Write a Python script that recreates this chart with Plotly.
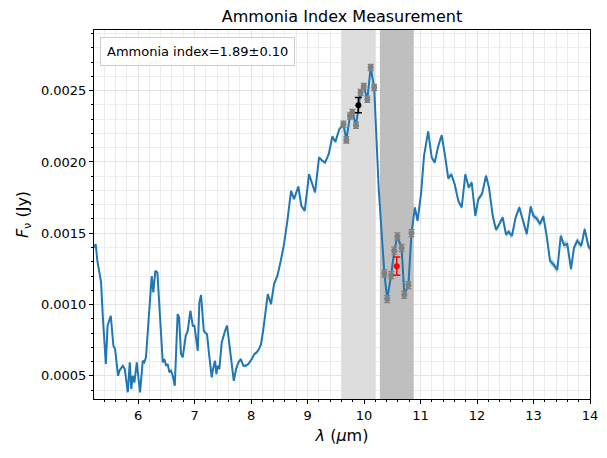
import plotly.graph_objects as go

# ---------------- data ----------------
wavelength = [
    5.22, 5.25, 5.28, 5.345, 5.375, 5.43, 5.46, 5.517,
    5.563, 5.593, 5.646, 5.67, 5.73, 5.765, 5.818, 5.853,
    5.88, 5.906, 5.935, 5.977, 6.035, 6.083, 6.11, 6.14,
    6.183, 6.242, 6.27, 6.306, 6.342, 6.39, 6.437, 6.466,
    6.496, 6.525, 6.554, 6.584, 6.614, 6.65, 6.70, 6.726,
    6.76, 6.79, 6.844, 6.88, 6.926, 6.968, 6.997, 7.057,
    7.085, 7.115, 7.163, 7.186, 7.221, 7.257, 7.304, 7.327,
    7.363, 7.386, 7.41, 7.439, 7.481, 7.54, 7.575, 7.616,
    7.658, 7.694, 7.735, 7.775, 7.818, 7.864, 7.906, 7.952,
    8.012, 8.058, 8.10, 8.14, 8.177, 8.218, 8.296, 8.354,
    8.407, 8.466, 8.526, 8.584, 8.643, 8.708, 8.761, 8.837,
    8.89, 8.95, 9.027, 9.092, 9.133, 9.204, 9.262, 9.31,
    9.375, 9.439, 9.492, 9.563, 9.635, 9.687, 9.752, 9.793,
    9.858, 9.94, 9.995, 10.058, 10.118, 10.18, 10.26, 10.36,
    10.41, 10.48, 10.535, 10.59, 10.665, 10.713, 10.785, 10.84,
    10.90, 10.947, 11.01, 11.062, 11.135, 11.198, 11.251, 11.315,
    11.375, 11.434, 11.492, 11.545, 11.605, 11.669, 11.729, 11.793,
    11.853, 11.906, 11.97, 12.023, 12.088, 12.159, 12.212, 12.278,
    12.336, 12.395, 12.455, 12.513, 12.56, 12.619, 12.684, 12.749,
    12.809, 12.88, 12.95, 12.997, 13.057, 13.115, 13.174, 13.233,
    13.292, 13.35, 13.421, 13.482, 13.54, 13.598, 13.664, 13.717,
    13.775, 13.846, 13.906, 13.97, 14.0,
]

flux = [
    0.001400, 0.001424, 0.001306, 0.001155, 0.000921, 0.000582, 0.000851, 0.000921,
    0.000710, 0.000687, 0.000500, 0.000535, 0.000570, 0.000547, 0.000384, 0.000594,
    0.000407, 0.000500, 0.000453, 0.000594, 0.000384, 0.000605, 0.000594, 0.000629,
    0.000874, 0.001200, 0.001085, 0.001236, 0.001225, 0.000874, 0.000594, 0.000617,
    0.000570, 0.000582, 0.000524, 0.000535, 0.000500, 0.000430, 0.000933, 0.000910,
    0.000652, 0.000629, 0.000780, 0.000816, 0.000956, 0.000851, 0.000851, 0.000675,
    0.001015, 0.001066, 0.000816, 0.000804, 0.000792, 0.000652, 0.000489, 0.000547,
    0.000605, 0.000512, 0.000570, 0.000547, 0.000734, 0.000816, 0.000851, 0.000722,
    0.000594, 0.000465, 0.000547, 0.000594, 0.000617, 0.000570, 0.000570, 0.000582,
    0.000617, 0.000652, 0.000664, 0.000687, 0.000722, 0.000828, 0.001073, 0.001003,
    0.001143, 0.001201, 0.001306, 0.001424, 0.001587, 0.001797, 0.001739, 0.001828,
    0.001692, 0.001657, 0.001914, 0.001832, 0.001786, 0.002032, 0.002008, 0.001996,
    0.002055, 0.002179, 0.002141, 0.002230, 0.002265, 0.002155, 0.002323, 0.002347,
    0.002258, 0.002487, 0.002529, 0.002440, 0.002663, 0.002522, 0.001810, 0.001218,
    0.001038, 0.001206, 0.001377, 0.001478, 0.001396, 0.001068, 0.001136, 0.001501,
    0.001681, 0.001587, 0.001780, 0.002043, 0.002215, 0.002032, 0.001996, 0.002113,
    0.002188, 0.002043, 0.001884, 0.001914, 0.001844, 0.001727, 0.001681, 0.001914,
    0.001821, 0.001856, 0.001622, 0.001739, 0.001774, 0.001903, 0.001821, 0.001622,
    0.001524, 0.001564, 0.001611, 0.001490, 0.001510, 0.001482, 0.001611, 0.001681,
    0.001587, 0.001494, 0.001688, 0.001622, 0.001604, 0.001564, 0.001618, 0.001482,
    0.001306, 0.001283, 0.001243, 0.001482, 0.001417, 0.001424, 0.001248, 0.001400,
    0.001447, 0.001412, 0.001529, 0.001412, 0.001390,
]

flux_err = [
    0.8e-5, 0.8e-5, 0.8e-5, 0.8e-5, 0.8e-5, 0.8e-5, 0.8e-5, 0.8e-5,
    0.8e-5, 0.8e-5, 0.8e-5, 0.8e-5, 0.8e-5, 0.8e-5, 0.8e-5, 0.8e-5,
    0.8e-5, 0.8e-5, 0.8e-5, 0.8e-5, 0.8e-5, 0.8e-5, 0.8e-5, 0.8e-5,
    0.8e-5, 0.8e-5, 0.8e-5, 0.8e-5, 0.8e-5, 0.8e-5, 0.8e-5, 0.8e-5,
    0.8e-5, 0.8e-5, 0.8e-5, 0.8e-5, 0.8e-5, 0.8e-5, 0.8e-5, 0.8e-5,
    0.9e-5, 0.9e-5, 0.9e-5, 0.9e-5, 0.9e-5, 0.9e-5, 0.9e-5, 0.9e-5,
    0.9e-5, 0.9e-5, 0.9e-5, 0.9e-5, 0.9e-5, 0.9e-5, 0.9e-5, 0.9e-5,
    1.0e-5, 1.0e-5, 1.0e-5, 1.0e-5, 1.0e-5, 1.0e-5, 1.0e-5, 1.0e-5,
    1.0e-5, 1.0e-5, 1.0e-5, 1.0e-5, 1.0e-5, 1.0e-5, 1.0e-5, 1.0e-5,
    1.1e-5, 1.1e-5, 1.1e-5, 1.1e-5, 1.1e-5, 1.1e-5, 1.1e-5, 1.1e-5,
    1.1e-5, 1.1e-5, 1.1e-5, 1.1e-5, 1.1e-5, 1.1e-5, 1.1e-5, 1.1e-5,
    1.2e-5, 1.2e-5, 1.2e-5, 1.2e-5, 1.2e-5, 1.2e-5, 1.2e-5, 1.2e-5,
    1.2e-5, 1.2e-5, 1.2e-5, 1.2e-5, 1.2e-5, 1.2e-5, 1.2e-5, 1.2e-5,
    1.3e-5, 1.3e-5, 1.3e-5, 1.3e-5, 1.3e-5, 1.3e-5, 1.3e-5, 1.3e-5,
    1.4e-5, 1.4e-5, 1.4e-5, 1.4e-5, 1.4e-5, 1.4e-5, 1.4e-5, 1.4e-5,
    1.6e-5, 1.6e-5, 1.6e-5, 1.6e-5, 1.6e-5, 1.6e-5, 1.6e-5, 1.6e-5,
    1.7e-5, 1.7e-5, 1.7e-5, 1.7e-5, 1.7e-5, 1.7e-5, 1.7e-5, 1.7e-5,
    1.9e-5, 1.9e-5, 1.9e-5, 1.9e-5, 1.9e-5, 1.9e-5, 1.9e-5, 1.9e-5,
    2.0e-5, 2.0e-5, 2.0e-5, 2.0e-5, 2.0e-5, 2.0e-5, 2.0e-5, 2.0e-5,
    2.3e-5, 2.3e-5, 2.3e-5, 2.3e-5, 2.3e-5, 2.3e-5, 2.3e-5, 2.3e-5,
    2.5e-5, 2.5e-5, 2.5e-5, 2.5e-5, 2.5e-5, 2.5e-5, 2.5e-5, 2.5e-5,
    2.5e-5, 2.5e-5, 2.5e-5, 2.5e-5, 2.5e-5,
]

# index windows (micron)
continuum_window = [9.60, 10.20]
absorption_window = [10.28, 10.88]

# per-pixel error bars drawn on the points inside the windows
continuum_pt_err = [2.2e-5, 2.2e-5, 2.2e-5, 2.2e-5, 2.2e-5, 2.2e-5, 2.2e-5, 2.2e-5, 2.2e-5, 2.2e-5]
absorption_pt_err = [2.5e-5, 2.5e-5, 2.5e-5, 2.5e-5, 2.5e-5, 2.5e-5, 2.5e-5, 2.5e-5, 2.5e-5]

# window-averaged fluxes and their uncertainties
continuum_mean_err = 5.3e-5
absorption_mean_err = 6.4e-5

index_value = 1.89
index_err = 0.10

# axis limits
x_range = [5.22, 14.0]
y_range = [0.000337, 0.002926]

# ---------------- derived selections ----------------
cont_x = [w for w in wavelength if continuum_window[0] <= w <= continuum_window[1]]
cont_y = [f for w, f in zip(wavelength, flux) if continuum_window[0] <= w <= continuum_window[1]]
abs_x = [w for w in wavelength if absorption_window[0] <= w <= absorption_window[1]]
abs_y = [f for w, f in zip(wavelength, flux) if absorption_window[0] <= w <= absorption_window[1]]
cont_mean = sum(cont_y) / len(cont_y)
abs_mean = sum(abs_y) / len(abs_y)
cont_center = sum(continuum_window) / 2
abs_center = sum(absorption_window) / 2

upper = [f + e for f, e in zip(flux, flux_err)]
lower = [f - e for f, e in zip(flux, flux_err)]

BLUE = "#1f77b4"
FONT = "DejaVu Sans"

fig = go.Figure()

# shaded windows as filled traces (drawn above the grid)
for win, col in [(continuum_window, "#dcdcdc"), (absorption_window, "#bfbfbf")]:
    fig.add_trace(go.Scatter(
        x=[win[0], win[1], win[1], win[0], win[0]],
        y=[y_range[0], y_range[0], y_range[1], y_range[1], y_range[0]],
        mode="lines", fill="toself", fillcolor=col, line=dict(width=0),
        hoverinfo="skip", showlegend=False))

fig.add_trace(go.Scatter(x=wavelength, y=upper, mode="lines",
                         line=dict(width=0), hoverinfo="skip", showlegend=False))
fig.add_trace(go.Scatter(x=wavelength, y=lower, mode="lines",
                         line=dict(width=0), fill="tonexty",
                         fillcolor="rgba(31,119,180,0.3)", hoverinfo="skip",
                         showlegend=False))
fig.add_trace(go.Scatter(x=wavelength, y=flux, mode="lines",
                         line=dict(color=BLUE, width=2), showlegend=False))

fig.add_trace(go.Scatter(x=cont_x, y=cont_y, mode="markers",
                         marker=dict(color="gray", size=6),
                         error_y=dict(type="data", array=continuum_pt_err,
                                      color="gray", thickness=1.3, width=3),
                         showlegend=False))
fig.add_trace(go.Scatter(x=abs_x, y=abs_y, mode="markers",
                         marker=dict(color="gray", size=6),
                         error_y=dict(type="data", array=absorption_pt_err,
                                      color="gray", thickness=1.3, width=3),
                         showlegend=False))

fig.add_trace(go.Scatter(x=[cont_center], y=[cont_mean], mode="markers",
                         marker=dict(color="black", size=6),
                         error_y=dict(type="data", array=[continuum_mean_err],
                                      color="black", thickness=1.5, width=3.5),
                         showlegend=False))
fig.add_trace(go.Scatter(x=[abs_center], y=[abs_mean], mode="markers",
                         marker=dict(color="red", size=6),
                         error_y=dict(type="data", array=[absorption_mean_err],
                                      color="red", thickness=1.5, width=3.5),
                         showlegend=False))

fig.add_annotation(xref="paper", yref="paper", x=0.012, y=0.981,
                   xanchor="left", yanchor="top", showarrow=False,
                   text=f"Ammonia index={index_value:.2f}±{index_err:.2f}",
                   font=dict(family=FONT, size=13, color="black"),
                   bgcolor="rgba(255,255,255,0.85)", bordercolor="#cccccc",
                   borderwidth=1, borderpad=6)

axis_common = dict(showline=True, linecolor="black", linewidth=1, mirror=True,
                   ticks="outside", ticklen=4, tickwidth=1, tickcolor="black",
                   showgrid=True, gridcolor="#e3e3e3", gridwidth=1,
                   zeroline=False,
                   tickfont=dict(family=FONT, size=13, color="black"))

fig.update_xaxes(**axis_common, range=x_range, tick0=6, dtick=1,
                 minor=dict(tick0=6, dtick=0.2, ticks="outside", ticklen=2,
                            tickcolor="black", showgrid=True,
                            gridcolor="#ececec", gridwidth=1),
                 title=dict(text="<i>λ</i> (<i>μ</i>m)",
                            font=dict(family=FONT, size=16, color="black"),
                            standoff=8))
fig.update_yaxes(**axis_common, range=y_range, tick0=0.0005,
                 dtick=0.0005, tickformat=".4f",
                 minor=dict(tick0=0.0005, dtick=0.0001, ticks="outside",
                            ticklen=2, tickcolor="black", showgrid=True,
                            gridcolor="#ececec", gridwidth=1),
                 title=dict(text="<i>F</i><sub>ν</sub> (Jy)",
                            font=dict(family=FONT, size=16, color="black"),
                            standoff=8))

fig.update_layout(
    width=607, height=458,
    margin=dict(l=94, r=17, t=30, b=59, autoexpand=False),
    paper_bgcolor="white", plot_bgcolor="white",
    font=dict(family=FONT, color="black"),
    title=dict(text="Ammonia Index Measurement", x=0.5, xref="paper",
               y=1 - 16 / 458, yanchor="middle",
               font=dict(family=FONT, size=16, color="black")),
    showlegend=False,
)

fig.write_html("out.html")
